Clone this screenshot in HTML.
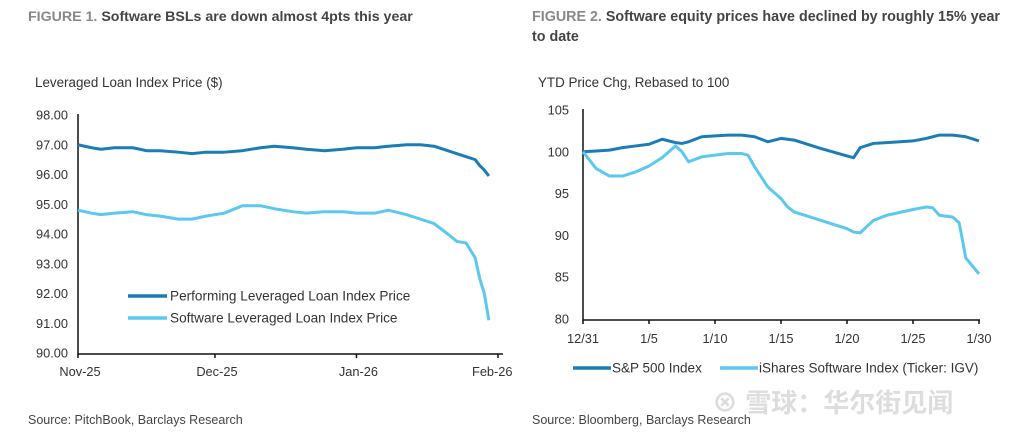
<!DOCTYPE html>
<html><head><meta charset="utf-8"><style>
body{margin:0;width:1024px;height:433px;background:#fff;overflow:hidden;font-family:"Liberation Sans","Noto Sans CJK SC",sans-serif}
svg{position:absolute;left:0;top:0}
</style></head><body>
<svg width="1024" height="433" id="svg" font-family="Liberation Sans, Noto Sans CJK SC, sans-serif">
<text x="28" y="21" font-size="14.2" font-weight="bold" fill="#444"><tspan fill="#888">FIGURE 1.</tspan> Software BSLs are down almost 4pts this year</text>
<text x="35" y="87" font-size="13.4" fill="#333">Leveraged Loan Index Price ($)</text>
<text x="28" y="424" font-size="12.5" fill="#444">Source: PitchBook, Barclays Research</text>
<text x="532" y="21" font-size="14.3" font-weight="bold" fill="#444"><tspan fill="#888">FIGURE 2.</tspan> Software equity prices have declined by roughly 15% year</text>
<text x="532" y="41" font-size="14.3" font-weight="bold" fill="#444">to date</text>
<text x="538" y="87" font-size="13.4" fill="#333">YTD Price Chg, Rebased to 100</text>
<text x="532" y="424" font-size="12.5" fill="#444">Source: Bloomberg, Barclays Research</text>
<text x="712" y="412" font-size="26" font-weight="bold" fill="#ddd">⊗ 雪球：华尔街见闻</text>
<g id="c1"></g>
<g id="c2"></g>
</svg>
<script>
// Chart 1 data (day index from Nov 1)
const c1Days=[0,3,5,8,12,15,18,22,25,28,32,36,40,43,47,50,54,58,61,65,68,72,75,78,81,83,85,87,88,89,90];
const c1Perf=[97.0,96.9,96.85,96.9,96.9,96.8,96.8,96.75,96.7,96.75,96.75,96.8,96.9,96.95,96.9,96.85,96.8,96.85,96.9,96.9,96.95,97.0,97.0,96.95,96.8,96.7,96.6,96.5,96.3,96.15,95.95];
const c1Soft=[94.8,94.7,94.65,94.7,94.75,94.65,94.6,94.5,94.5,94.6,94.7,94.95,94.95,94.85,94.75,94.7,94.75,94.75,94.7,94.7,94.8,94.65,94.5,94.35,94.0,93.75,93.7,93.2,92.5,92.0,91.1];
const c1YTicks=["90.00","91.00","92.00","93.00","94.00","95.00","96.00","97.00","98.00"];
const c1XLabels=["Nov-25","Dec-25","Jan-26","Feb-26"];
const c1XTickDays=[0,30,61,92];
// Chart 2 data (trading day index from 12/31)
const c2Days=[0,1,2,3,4,5,6,7,7.5,8,9,10,11,12,12.5,13,14,15,15.5,16,18,20,20.5,21,22,23,25,26,26.5,27,28,28.5,29,30];
const c2SP=[100,100.1,100.2,100.5,100.7,100.9,101.5,101.1,101.0,101.2,101.8,101.9,102,102,101.9,101.8,101.2,101.6,101.5,101.4,100.4,99.5,99.3,100.5,101,101.1,101.3,101.6,101.8,102,102,101.9,101.8,101.3];
const c2IGV=[100,98,97.1,97.1,97.6,98.3,99.3,100.7,100,98.8,99.4,99.6,99.8,99.8,99.6,98.2,95.8,94.4,93.4,92.8,91.8,90.8,90.4,90.3,91.8,92.4,93.1,93.4,93.3,92.4,92.2,91.5,87.3,85.4];
const c2YTicks=["80","85","90","95","100","105"];
const c2XLabels=["12/31","1/5","1/10","1/15","1/20","1/25","1/30"];

const NS="http://www.w3.org/2000/svg";
const DARK="#1b7db5",LIGHT="#5bc8ef";
function mk(p,tag,attrs){const e=document.createElementNS(NS,tag);for(const k in attrs)e.setAttribute(k,attrs[k]);p.appendChild(e);return e;}

// Chart 1
(function(){
const g=document.getElementById('c1');
const x=d=>78+d*(498-78)/92, y=v=>353-(v-90)*(353-115)/8;
c1YTicks.forEach((t,i)=>{const e=mk(g,'text',{x:68,y:y(90+i)+4.5,'font-size':12.8,fill:'#333','text-anchor':'end'});e.textContent=t;

});
const ax=mk(g,'path',{d:`M78,114V354H503`,stroke:'#111','stroke-width':1.5,fill:'none'});


c1XTickDays.forEach((d,i)=>{const tk=mk(g,'line',{x1:x(d),x2:x(d),y1:354,y2:358,stroke:'#111','stroke-width':1.5});


const e=mk(g,'text',{x:i==3?472:x(d)+2,y:376,'font-size':12.8,fill:'#333','text-anchor':i==3?'start':'middle'});e.textContent=c1XLabels[i];

});
[[c1Perf,DARK,'line-performing'],[c1Soft,LIGHT,'line-software']].forEach(([s,c,n])=>{
const p=mk(g,'polyline',{points:c1Days.map((d,i)=>x(d)+','+y(s[i])).join(' '),stroke:c,'stroke-width':3,fill:'none','stroke-linejoin':'round'});

});
[["Performing Leveraged Loan Index Price",DARK,296],["Software Leveraged Loan Index Price",LIGHT,318]].forEach(([t,c,yy])=>{
const l=mk(g,'line',{x1:128,x2:167,y1:yy,y2:yy,stroke:c,'stroke-width':3.5});


const e=mk(g,'text',{x:170,y:yy+4.5,'font-size':13.6,fill:'#333'});e.textContent=t;

});
})();

// Chart 2
(function(){
const g=document.getElementById('c2');
const x=d=>583+d*(979-583)/30, y=v=>319-(v-80)*(319-110)/25;
c2YTicks.forEach((t,i)=>{const e=mk(g,'text',{x:569,y:y(80+5*i)+4.5,'font-size':12.8,fill:'#333','text-anchor':'end'});e.textContent=t;

});
const ax=mk(g,'path',{d:`M583,109V320H980`,stroke:'#111','stroke-width':1.5,fill:'none'});


c2XLabels.forEach((t,i)=>{const tk=mk(g,'line',{x1:x(5*i),x2:x(5*i),y1:320,y2:324,stroke:'#111','stroke-width':1.5});


const e=mk(g,'text',{x:x(5*i),y:343,'font-size':12.8,fill:'#333','text-anchor':'middle'});e.textContent=t;

});
[[c2SP,DARK,'line-sp500'],[c2IGV,LIGHT,'line-igv']].forEach(([s,c,n])=>{
const p=mk(g,'polyline',{points:c2Days.map((d,i)=>x(d)+','+y(s[i])).join(' '),stroke:c,'stroke-width':3,fill:'none','stroke-linejoin':'round'});

});
[["S&P 500 Index",DARK,573,612],["iShares Software Index (Ticker: IGV)",LIGHT,720,759]].forEach(([t,c,x1,tx])=>{
const l=mk(g,'line',{x1:x1,x2:x1+38,y1:368,y2:368,stroke:c,'stroke-width':3.5});


const e=mk(g,'text',{x:tx,y:372.5,'font-size':13.5,fill:'#333'});e.textContent=t;

});
})();
</script>
</body></html>
